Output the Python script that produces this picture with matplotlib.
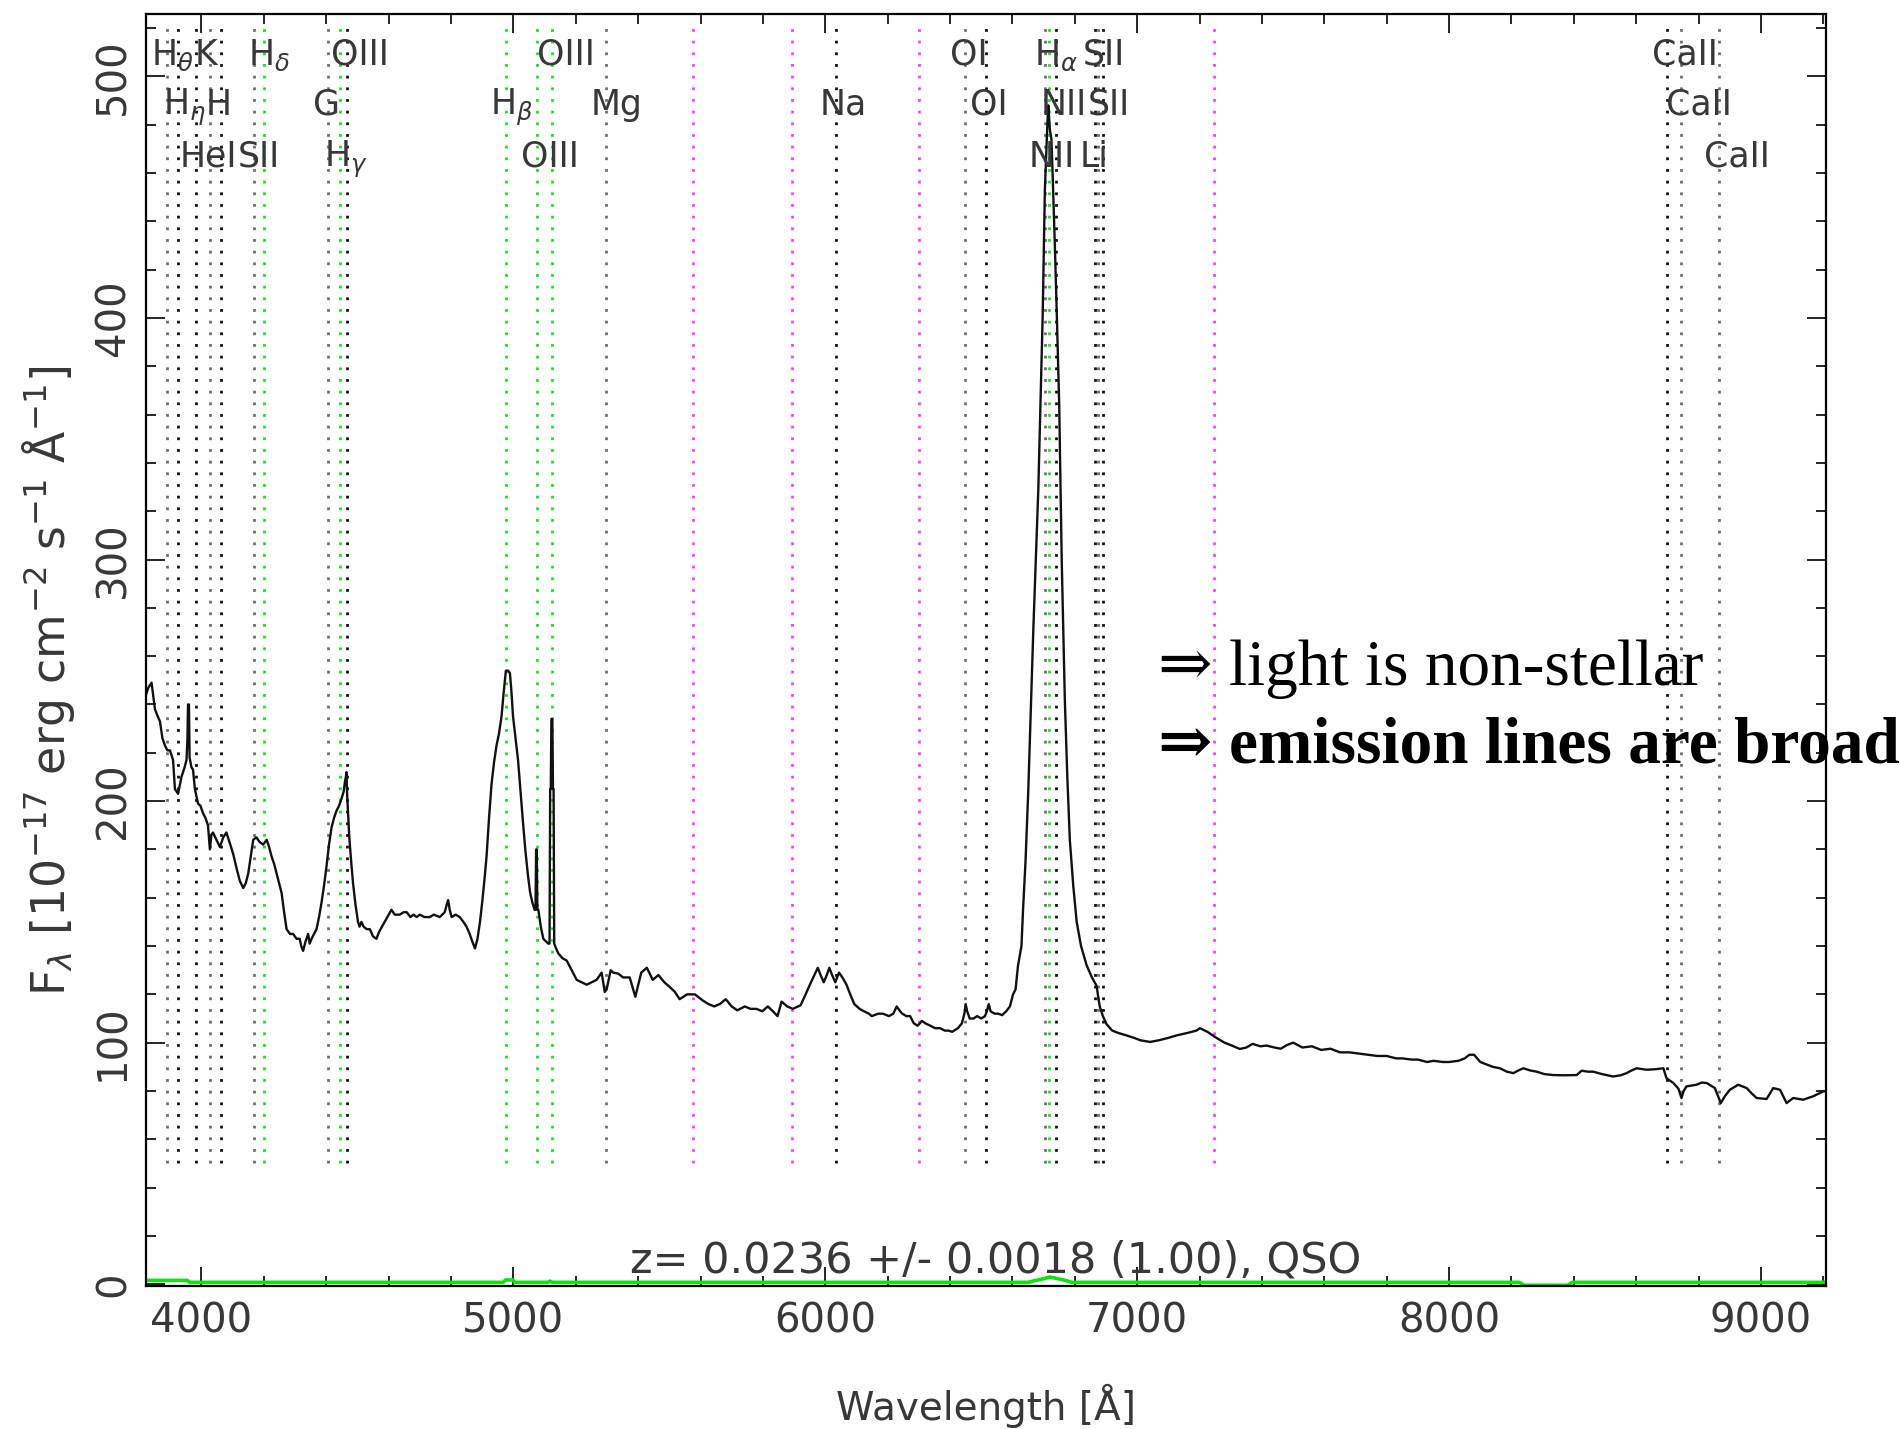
import matplotlib
matplotlib.use('Agg')
import matplotlib.pyplot as plt
from matplotlib.ticker import MultipleLocator

wave = [3822, 3830, 3840, 3846, 3851, 3860, 3867, 3875, 3883, 3891, 3899, 3909, 3915, 3925,
        3936, 3946, 3952, 3955, 3957, 3960, 3962, 3968, 3973, 3979, 3989, 3997, 4005, 4013,
        4021, 4027, 4032, 4037, 4048, 4059, 4070, 4080, 4090, 4102, 4113, 4123, 4134, 4142,
        4150, 4158, 4166, 4176, 4187, 4198, 4209, 4217, 4225, 4233, 4241, 4249, 4257, 4265,
        4273, 4284, 4294, 4305, 4315, 4320, 4326, 4334, 4342, 4347, 4353, 4361, 4369, 4377,
        4385, 4393, 4401, 4409, 4417, 4425, 4433, 4441, 4449, 4456, 4460, 4463, 4465, 4467,
        4470, 4474, 4480, 4486, 4494, 4502, 4507, 4513, 4520, 4530, 4540, 4550, 4561, 4570,
        4583, 4596, 4609, 4620, 4636, 4648, 4658, 4670, 4680, 4690, 4700, 4715, 4732, 4745,
        4764, 4772, 4780, 4786, 4791, 4796, 4802, 4815, 4828, 4840, 4850, 4860, 4868, 4877,
        4885, 4893, 4900, 4907, 4914, 4922, 4930, 4938, 4946, 4954, 4962, 4969, 4976, 4983,
        4989, 4994, 4999, 5007, 5015, 5023, 5031, 5039, 5047, 5054, 5061, 5068, 5071, 5073,
        5075, 5077, 5080, 5088, 5096, 5104, 5112, 5116, 5118, 5120, 5122, 5125, 5127, 5129,
        5131, 5137, 5144, 5157, 5171, 5187, 5203, 5219, 5235, 5251, 5267, 5283, 5293, 5299,
        5312, 5320, 5336, 5352, 5373, 5391, 5410, 5428, 5447, 5465, 5484, 5502, 5518, 5533,
        5557, 5582, 5607, 5625, 5644, 5662, 5681, 5700, 5718, 5742, 5760, 5779, 5798, 5816,
        5832, 5847, 5860, 5878, 5896, 5921, 5937, 5952, 5965, 5976, 5985, 5995, 6005, 6013,
        6022, 6032, 6044, 6055, 6068, 6080, 6093, 6110, 6124, 6140, 6149, 6170, 6185, 6204,
        6218, 6229, 6240, 6247, 6260, 6272, 6284, 6296, 6310, 6321, 6337, 6352, 6368, 6383,
        6395, 6407, 6425, 6438, 6446, 6450, 6455, 6463, 6475, 6487, 6500, 6512, 6518, 6524,
        6530, 6543, 6555, 6567, 6580, 6592, 6602, 6610, 6618, 6629, 6634, 6642, 6651, 6659,
        6667, 6675, 6683, 6690, 6697, 6704, 6709, 6712, 6715, 6720, 6725, 6730, 6736, 6743,
        6750, 6758, 6763, 6768, 6776, 6784, 6795, 6806, 6820, 6838, 6855, 6870, 6876, 6880,
        6890, 6902, 6920, 6940, 6966, 6990, 7010, 7041, 7070, 7100, 7126, 7160, 7190, 7201,
        7225, 7254, 7280, 7300, 7329, 7350, 7370, 7395, 7415, 7440, 7460, 7480, 7500, 7530,
        7560, 7590, 7620, 7650, 7680, 7710, 7740, 7770, 7800, 7830, 7850, 7880, 7900, 7930,
        7950, 7980, 8000, 8030, 8050, 8065, 8080, 8100, 8120, 8140, 8163, 8185, 8206, 8222,
        8238, 8260, 8281, 8305, 8334, 8370, 8409, 8425, 8445, 8462, 8490, 8526, 8550, 8569,
        8585, 8601, 8633, 8660, 8687, 8697, 8719, 8735, 8745, 8752, 8761, 8793, 8810, 8826,
        8852, 8862, 8871, 8885, 8900, 8927, 8954, 8970, 8986, 9018, 9039, 9061, 9082, 9103,
        9135, 9167, 9199, 9208]
flux = [244, 247, 249, 243, 238, 235, 233, 226, 223, 221, 221, 217, 205, 203,
        210, 214, 217, 225, 240, 240, 218, 214, 213, 205, 199, 198, 195, 193,
        190, 180, 186, 187, 184, 181, 185, 187, 183, 178, 172, 167, 164, 166,
        170, 177, 184, 185, 183, 182, 184, 181, 177, 174, 170, 166, 162, 154,
        147, 145, 145, 143, 143, 140, 138, 142, 145, 141, 143, 145, 147, 152,
        158, 165, 173, 182, 189, 193, 196, 198, 201, 204, 208, 210, 212, 203,
        195, 185, 175, 166, 157, 150, 148, 150, 148, 147, 147, 144, 143, 146,
        149, 152, 155, 153, 153, 154, 154, 152, 153, 152, 153, 152, 152, 153,
        152, 153, 154, 157, 159, 155, 152, 153, 152, 150, 148, 145, 142, 139,
        143, 150, 158, 167, 177, 193, 207, 216, 223, 228, 235, 245, 254, 254,
        253, 245, 235, 226, 217, 204, 191, 179, 169, 162, 158, 155, 155, 180,
        180, 155, 155, 148, 143, 142, 141, 141, 205, 205, 234, 234, 205, 205,
        141, 139, 137, 135, 134, 130, 126, 125, 124, 125, 126, 129, 121, 122,
        130, 129, 128.6, 127, 127, 119, 129, 131, 126, 128, 125, 123, 121, 118,
        120, 120, 117.5, 116, 115, 116, 118, 115, 113.4, 115, 114, 114, 113, 115,
        113, 111, 117, 115, 114, 115.5, 120, 124.4, 128, 131, 128, 125, 128, 131,
        128, 125, 129, 127, 124, 120, 116, 114, 113, 112, 111, 112, 112, 111,
        112, 115, 113, 112, 111, 111, 108, 107, 109, 108, 107, 106, 106, 105,
        105, 104.5, 106, 108, 112, 116, 113, 110, 110, 111, 110, 111, 113, 116,
        113, 112, 112, 111.4, 113, 115, 120, 122, 132, 140, 155, 175, 205, 238,
        271, 300, 329, 365, 401, 453, 470, 480, 488, 478, 474, 455, 430, 398,
        364, 300, 270, 242, 210, 184, 165, 150, 140, 132, 127, 123.5, 118, 115,
        111, 107.6, 105, 104, 103, 102, 101, 100.3, 101, 102, 103, 104, 105, 106,
        104.5, 102, 100, 99, 97.4, 98, 99.5, 98.5, 98.8, 98, 97.5, 99, 100, 98,
        98.5, 97, 97.5, 96, 96, 95.5, 95, 94.5, 94.5, 93.5, 93.5, 93, 93, 92,
        92.5, 92, 92, 92.5, 93.5, 95, 95, 92, 91, 90, 89.4, 88, 87.4, 88.5,
        89.4, 88.5, 88, 87, 86.6, 86.5, 86.6, 88.4, 88, 88, 87, 86, 86.5, 87.4,
        88.5, 89.4, 88.8, 89, 89.4, 85.3, 83.3, 81, 77.1, 80, 81.9, 82.6, 83.5, 83.3,
        81.2, 78, 75, 78, 80.5, 82.6, 81.2, 79, 77.1, 76.7, 81.2, 80.5, 75, 77.1,
        76.4, 77.8, 79.8, 80]

# error spectrum (green)
err_wave = [3822, 3955, 3962, 4968, 4975, 4998, 5005, 5110, 5118, 5125, 6650, 6675, 6700,
            6721, 6745, 6770, 6790, 8225, 8240, 8380, 8395, 9208]
err_flux = [1.6, 1.6, 0.8, 0.8, 1.8, 1.8, 0.8, 0.8, 1.3, 0.8, 0.8, 1.6, 2.3,
            3.0, 2.3, 1.6, 0.8, 0.8, -0.4, -0.4, 0.8, 0.8]

# line markers: observed wavelength, label, label row, colour
line_waves = [3888, 3926, 3981, 4027, 4062, 4168, 4199, 4407, 4443, 4466, 4976, 5076, 5125,
              5297, 6033, 6449, 6514, 6703, 6718, 6739, 6865, 6875, 6890, 8699, 8744, 8866]
line_names = [r'H$_\theta$', r'H$_\eta$', 'HeI', 'K', 'H', 'SII', r'H$_\delta$', 'G',
              r'H$_\gamma$', 'OIII', r'H$_\beta$', 'OIII', 'OIII', 'Mg', 'Na', 'OI', 'OI',
              'NII', r'H$_\alpha$', 'NII', 'Li', 'SII', 'SII', 'CaII', 'CaII', 'CaII']
line_rows = [1, 2, 3, 1, 2, 3, 1, 2, 3, 1, 2, 3, 1, 2, 2, 1, 2, 3, 1, 2, 3, 1, 2, 1, 2, 3]
line_kind = ['g', 'k', 'k', 'g', 'k', 'g', 'e', 'g', 'e', 'k', 'e', 'e', 'e',
             'g', 'k', 'g', 'k', 'g', 'e', 'k', 'k', 'g', 'k', 'k', 'g', 'g']
sky_waves = [5577, 5893, 6300, 7246]

yticks = [0, 100, 200, 300, 400, 500]
xticks = [4000, 5000, 6000, 7000, 8000, 9000]

serif = ['Liberation Serif', 'DejaVu Serif']
plt.rcParams['font.family'] = ['DejaVu Sans']
txt = '#383838'

fig = plt.figure(figsize=(19, 14.29), dpi=100)
ax = fig.add_axes([0.0768, 0.1001, 0.8842, 0.8901])

kind_color = {'g': '#6e6e6e', 'k': '#111111', 'e': '#22dd22'}
for w, k in zip(line_waves, line_kind):
    ax.vlines(w, 50, 523, colors=kind_color[k], lw=2.0, linestyles=(0, (1, 3.2)))
for w in sky_waves:
    ax.vlines(w, 50, 523, colors='#ff40ff', lw=2.0, linestyles=(0, (1, 3.2)))

row_y = {1: 504.7, 2: 484, 3: 462.6}
for w, name, r in zip(line_waves, line_names, line_rows):
    ax.text(w - 50, row_y[r], name, fontsize=25, color=txt, ha='left', va='baseline')

ax.plot(wave, flux, color='#111111', lw=1.7)
ax.plot(err_wave, err_flux, color='#11e011', lw=2.6)

ax.text(6547, 5, 'z= 0.0236 +/- 0.0018 (1.00), QSO', fontsize=31, color=txt,
        ha='center', va='baseline')

ax.set_xlim(3822, 9208)
ax.set_ylim(-0.7, 525.8)
ax.set_xticks(xticks)
ax.set_xticklabels([str(v) for v in xticks])
ax.set_yticks(yticks)
ax.set_yticklabels([str(v) for v in yticks], rotation=90, va='center')
ax.xaxis.set_minor_locator(MultipleLocator(200))
ax.yaxis.set_minor_locator(MultipleLocator(20))
ax.tick_params(which='both', direction='in', top=True, right=True, width=1.2,
               labelsize=29, labelcolor=txt)
ax.tick_params(which='major', length=14)
ax.tick_params(which='minor', length=7)
ax.tick_params(axis='x', pad=11)
ax.tick_params(axis='y', pad=9)
for s in ax.spines.values():
    s.set_linewidth(1.6)

fig.text(0.519, 1 - 1406 / 1429, 'Wavelength [Å]', fontsize=28, color=txt,
         ha='center', va='center')
fig.text(0.0253, 1 - 681 / 1429,
         r'F$_\lambda$ [10$^{-17}$ erg cm$^{-2}$ s$^{-1}$ Å$^{-1}$]',
         fontsize=33, color=txt, ha='center', va='center', rotation=90)

fig.text(0.6095, 1 - 685 / 1429, '⇒ light is non-stellar', fontsize=47,
         family=serif, color='black', ha='left', va='baseline')
fig.text(0.6095, 1 - 763 / 1429, '⇒ emission lines are broad', fontsize=47,
         family=serif, fontweight='bold', color='black', ha='left', va='baseline')

fig.savefig('out.png', dpi=100)
